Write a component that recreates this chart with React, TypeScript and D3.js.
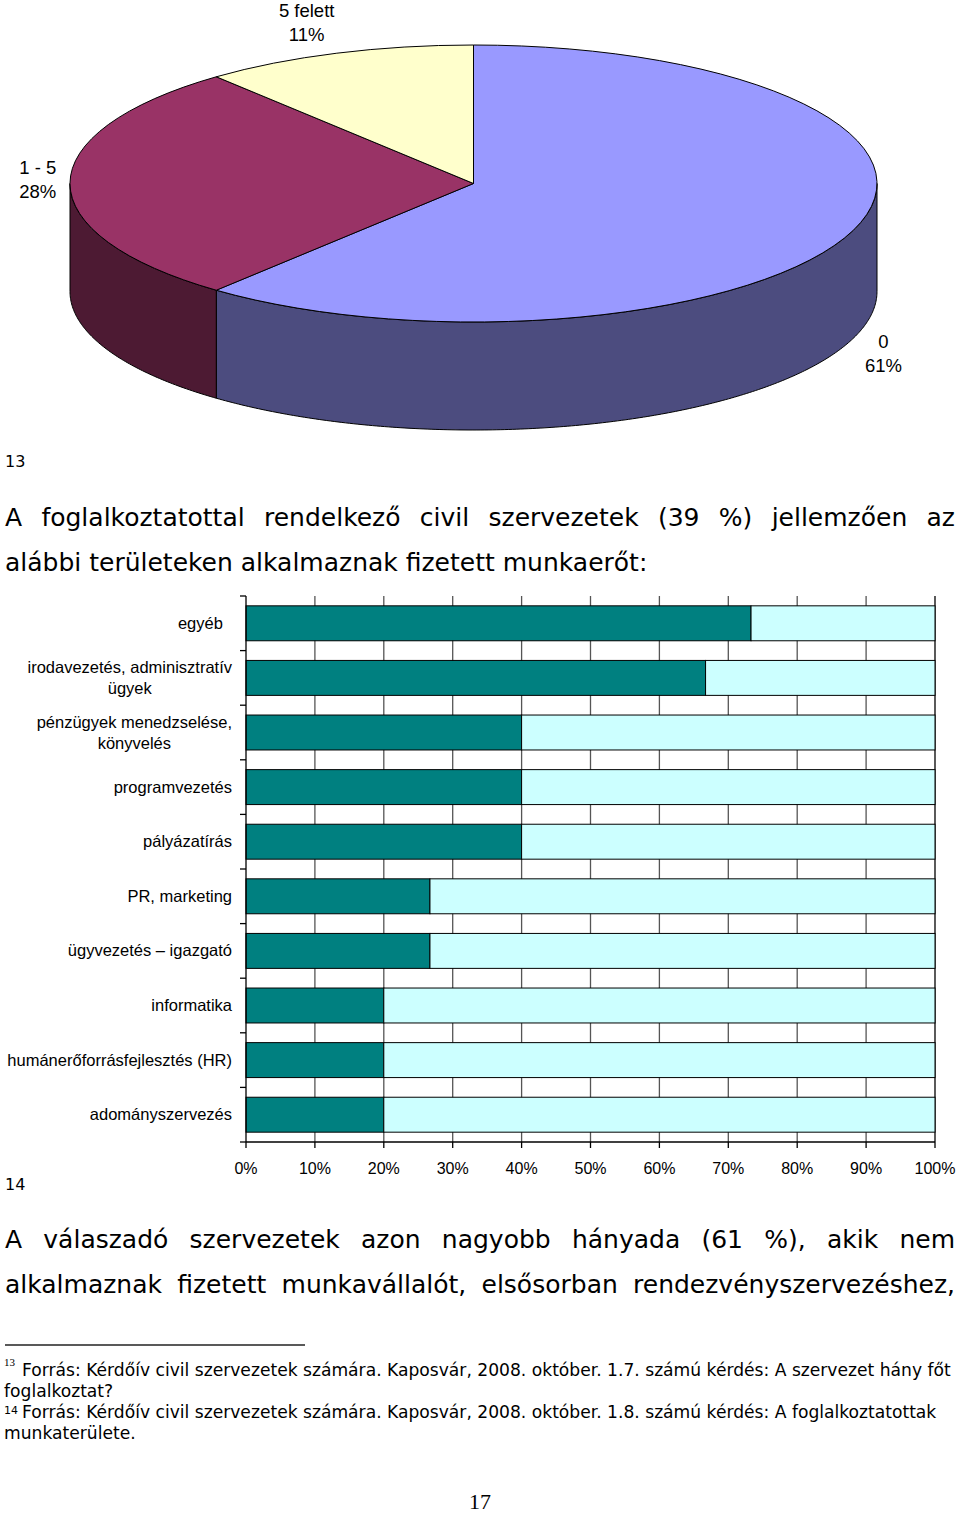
import * as d3 from 'd3';

// pie: number of employees
const PIE_LABELS = ['0', '1 - 5', '5 felett'];
const PIE_VALUES = [61, 28, 11];
const PIE_TOP = ['#9999FF', '#993366', '#FFFFCC'];
const PIE_SIDE = ['#4C4C7F', '#4D1A33', '#80805F'];

// bar: fields of work (share of organisations, %)
const CATEGORIES = [
  ['egyéb\u00a0\u00a0'],
  ['irodavezetés, adminisztratív', 'ügyek'],
  ['pénzügyek menedzselése,', 'könyvelés'],
  ['programvezetés'],
  ['pályázatírás'],
  ['PR, marketing'],
  ['ügyvezetés – igazgató'],
  ['informatika'],
  ['humánerőforrásfejlesztés (HR)'],
  ['adományszervezés'],
];
const YES = [73.3, 66.7, 40, 40, 40, 26.7, 26.7, 20, 20, 20];
const NO = [26.7, 33.3, 60, 60, 60, 73.3, 73.3, 80, 80, 80];
const X_TICKS = [0, 10, 20, 30, 40, 50, 60, 70, 80, 90, 100];

const PARA1 = [
  'A foglalkoztatottal rendelkező civil szervezetek (39 %) jellemzően az',
  'alábbi területeken alkalmaznak fizetett munkaerőt:',
];
const PARA2 = [
  'A válaszadó szervezetek azon nagyobb hányada (61 %), akik nem',
  'alkalmaznak fizetett munkavállalót, elsősorban rendezvényszervezéshez,',
];
const FOOT1 = [
  'Forrás: Kérdőív civil szervezetek számára. Kaposvár, 2008. október. 1.7. számú kérdés: A szervezet hány főt',
  'foglalkoztat?',
];
const FOOT2 = [
  'Forrás: Kérdőív civil szervezetek számára. Kaposvár, 2008. október. 1.8. számú kérdés: A foglalkoztatottak',
  'munkaterülete.',
];

const BODY_FONT = "'DejaVu Sans', Verdana, sans-serif";
const CHART_FONT = "'Liberation Sans', Arial, sans-serif";
const BODY_SIZE = 25;

const ctx = document.createElement('canvas').getContext('2d')!;
function measure(text: string, size: number, family: string) {
  ctx.font = `${size}px ${family}`;
  return ctx.measureText(text).width;
}

function JustifiedLine({ text, x0, x1, y, size }: { text: string; x0: number; x1: number; y: number; size: number }) {
  const words = text.split(' ');
  const widths = words.map((w) => measure(w, size, BODY_FONT));
  const gap = (x1 - x0 - d3.sum(widths)) / (words.length - 1);
  let x = x0;
  return (
    <g fontFamily={BODY_FONT} fontSize={size}>
      {words.map((w, i) => {
        const px = x;
        x += widths[i] + gap;
        return <text key={i} x={px} y={y}>{w}</text>;
      })}
    </g>
  );
}

function Pie3D() {
  const cx = 473.5, cy = 183.5, rx = 403.5, ry = 138.5, depth = 108;
  const arcs = d3.pie<number>().sort(null).value((d) => d)(PIE_VALUES);
  const arcGen = d3.arc<d3.PieArcDatum<number>>().innerRadius(0).outerRadius(rx);
  const pt = (a: number, dy = 0): [number, number] => [cx + rx * Math.sin(a), cy - ry * Math.cos(a) + dy];

  const side = (a0: number, a1: number) => {
    const s = Math.max(a0, Math.PI / 2);
    const e = Math.min(a1, (3 * Math.PI) / 2);
    if (s >= e) return null;
    const n = Math.ceil((e - s) / 0.01);
    const angles = d3.range(n + 1).map((i) => s + ((e - s) * i) / n);
    const pts = [...angles.map((a) => pt(a)), ...angles.slice().reverse().map((a) => pt(a, depth))];
    return d3.line()(pts) + 'Z';
  };

  return (
    <g>
      {arcs.map((a, i) => {
        const d = side(a.startAngle, a.endAngle);
        return d ? <path key={i} d={d} fill={PIE_SIDE[i]} stroke="#000" strokeWidth={1} /> : null;
      })}
      <g transform={`translate(${cx},${cy}) scale(1,${ry / rx})`}>
        {arcs.map((a, i) => (
          <path key={i} d={arcGen(a) ?? ''} fill={PIE_TOP[i]} stroke="#000" strokeWidth={1} vectorEffect="non-scaling-stroke" />
        ))}
      </g>
      {arcs.map((a, i) => {
        const mid = (a.startAngle + a.endAngle) / 2;
        const lx = cx + rx * 1.08 * Math.sin(mid) * (Math.cos(mid) > 0.5 ? 1.13 : 1);
        const ly = cy - ry * 1.2 * Math.cos(mid) + (Math.cos(mid) < -0.1 ? depth + 10 : 0);
        return (
          <text key={i} x={lx} textAnchor="middle" fontFamily={CHART_FONT} fontSize={18.5} fill="#000">
            <tspan x={lx} y={ly - 10}>{PIE_LABELS[i]}</tspan>
            <tspan x={lx} y={ly + 14}>{`${PIE_VALUES[i]}%`}</tspan>
          </text>
        );
      })}
    </g>
  );
}

function BarChart() {
  const x = d3.scaleLinear().domain([0, 100]).range([246, 935]);
  const y = d3.scaleBand<number>().domain(d3.range(CATEGORIES.length)).range([596, 1142]).paddingInner(0.36).paddingOuter(0.18);
  const [top, bottom] = y.range();
  const step = y.step();
  const labelSize = 16.5;
  const labelRight = 232;

  return (
    <g>
      {X_TICKS.slice(1).map((t) => (
        <line key={t} x1={x(t)} x2={x(t)} y1={top} y2={bottom} stroke={t === 100 ? '#000' : '#555'} strokeWidth={1.3} />
      ))}
      {CATEGORIES.map((_, i) => (
        <g key={i}>
          <rect x={x(0)} y={y(i)} width={x(YES[i]) - x(0)} height={y.bandwidth()} fill="#008080" stroke="#000" strokeWidth={1} />
          <rect x={x(YES[i])} y={y(i)} width={x(YES[i] + NO[i]) - x(YES[i])} height={y.bandwidth()} fill="#CCFFFF" stroke="#000" strokeWidth={1} />
        </g>
      ))}
      {/* y axis */}
      <line x1={x(0)} x2={x(0)} y1={top} y2={bottom} stroke="#000" strokeWidth={1.3} />
      {d3.range(CATEGORIES.length + 1).map((i) => (
        <line key={i} x1={x(0) - 6} x2={x(0)} y1={top + i * step} y2={top + i * step} stroke="#000" strokeWidth={1.3} />
      ))}
      {/* x axis */}
      <line x1={x(0)} x2={x(100)} y1={bottom} y2={bottom} stroke="#000" strokeWidth={1.3} />
      {X_TICKS.map((t) => (
        <g key={t}>
          <line x1={x(t)} x2={x(t)} y1={bottom} y2={bottom + 6} stroke="#000" strokeWidth={1.3} />
          <text x={x(t)} y={1174} textAnchor="middle" fontFamily={CHART_FONT} fontSize={16}>{`${t}%`}</text>
        </g>
      ))}
      {CATEGORIES.map((lines, i) => {
        const cyL = (y(i) ?? 0) + y.bandwidth() / 2;
        if (lines.length === 1) {
          return (
            <text key={i} x={labelRight} y={cyL + 5.5} textAnchor="end" fontFamily={CHART_FONT} fontSize={labelSize} style={{ whiteSpace: 'pre' }}>
              {lines[0]}
            </text>
          );
        }
        const w = d3.max(lines, (l) => measure(l, labelSize, CHART_FONT)) ?? 0;
        const mx = labelRight - w / 2;
        return (
          <text key={i} textAnchor="middle" fontFamily={CHART_FONT} fontSize={labelSize}>
            {lines.map((l, j) => (
              <tspan key={j} x={mx} y={cyL + 5.5 + (j - (lines.length - 1) / 2) * 21}>{l}</tspan>
            ))}
          </text>
        );
      })}
    </g>
  );
}

export default function App() {
  const footBase = 15;
  const footSize = (footBase * 930) / measure(FOOT1[0], footBase, BODY_FONT);
  return (
    <svg width={960} height={1513} style={{ position: 'absolute', left: 0, top: 0, background: '#fff' }}>
      <rect width={960} height={1513} fill="#fff" />
      <Pie3D />
      <text x={5} y={467} fontFamily={BODY_FONT} fontSize={16}>13</text>
      <JustifiedLine text={PARA1[0]} x0={5} x1={955} y={526} size={BODY_SIZE} />
      <text x={5} y={571} fontFamily={BODY_FONT} fontSize={BODY_SIZE}>{PARA1[1]}</text>
      <BarChart />
      <text x={5} y={1190} fontFamily={BODY_FONT} fontSize={16}>14</text>
      <JustifiedLine text={PARA2[0]} x0={5} x1={955} y={1248} size={BODY_SIZE} />
      <JustifiedLine text={PARA2[1]} x0={5} x1={955} y={1293} size={BODY_SIZE} />
      <line x1={5} x2={305} y1={1345} y2={1345} stroke="#222" strokeWidth={1.5} />
      <text x={4} y={1366} fontFamily="'Liberation Serif', serif" fontSize={11}>13</text>
      <text x={22} y={1376} fontFamily={BODY_FONT} fontSize={footSize}>{FOOT1[0]}</text>
      <text x={4} y={1397} fontFamily={BODY_FONT} fontSize={footSize}>{FOOT1[1]}</text>
      <text x={4} y={1414} fontFamily={BODY_FONT} fontSize={11}>14</text>
      <text x={22} y={1418} fontFamily={BODY_FONT} fontSize={footSize}>{FOOT2[0]}</text>
      <text x={4} y={1439} fontFamily={BODY_FONT} fontSize={footSize}>{FOOT2[1]}</text>
      <text x={480} y={1509} textAnchor="middle" fontFamily="'Liberation Serif', serif" fontSize={22}>17</text>
    </svg>
  );
}
